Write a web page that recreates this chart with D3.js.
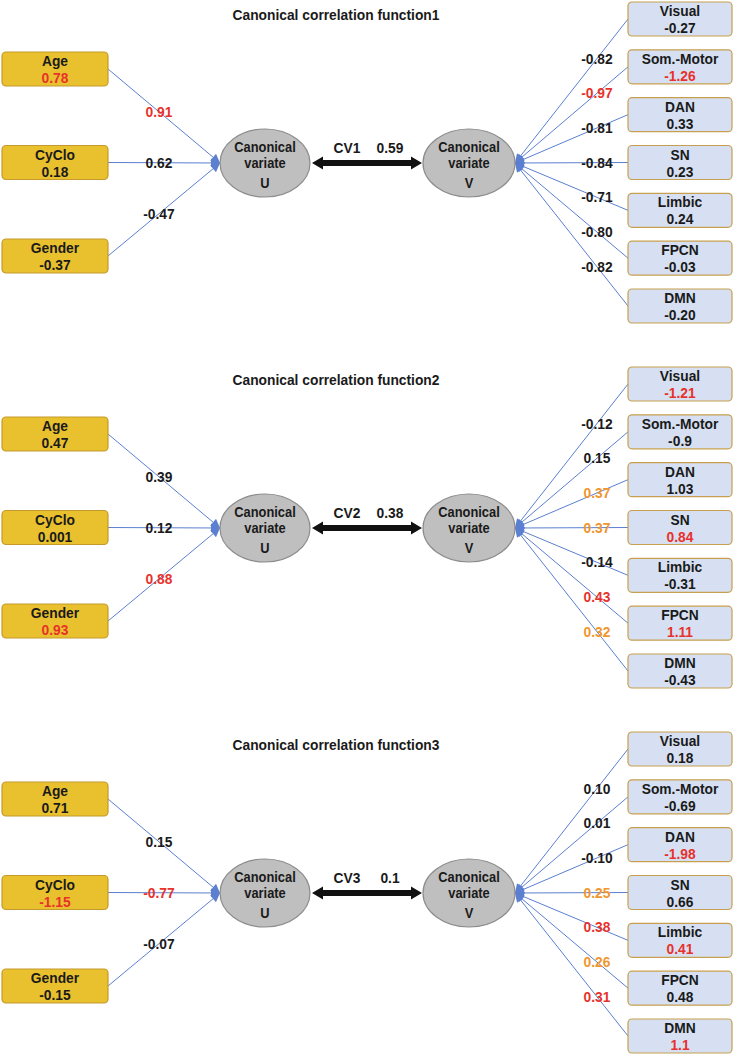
<!DOCTYPE html>
<html lang="en">
<meta charset="utf-8">
<head>
    <script src="https://d3js.org/d3.v7.min.js"></script>
    <style>
        body { margin: 0; background: #fff; }
        text { font-family: "Liberation Sans", Arial, sans-serif; font-weight: bold; font-size: 15px; }
        text.ell { font-size: 14px; }
    </style>
</head>
<body>
<script>

// data
var titles = ["Canonical correlation function1", "Canonical correlation function2", "Canonical correlation function3"];
var cvNames = ["CV1", "CV2", "CV3"];
var cvValues = ["0.59", "0.38", "0.1"];

var leftVars = ["Age", "CyClo", "Gender"];
var rightVars = ["Visual", "Som.-Motor", "DAN", "SN", "Limbic", "FPCN", "DMN"];

// box values (scores) and path loadings, per function
var leftScores = [["0.78", "0.18", "-0.37"], ["0.47", "0.001", "0.93"], ["0.71", "-1.15", "-0.15"]];
var leftLoadings = [["0.91", "0.62", "-0.47"], ["0.39", "0.12", "0.88"], ["0.15", "-0.77", "-0.07"]];
var rightScores = [
    ["-0.27", "-1.26", "0.33", "0.23", "0.24", "-0.03", "-0.20"],
    ["-1.21", "-0.9", "1.03", "0.84", "-0.31", "1.11", "-0.43"],
    ["0.18", "-0.69", "-1.98", "0.66", "0.41", "0.48", "1.1"]
];
var rightLoadings = [
    ["-0.82", "-0.97", "-0.81", "-0.84", "-0.71", "-0.80", "-0.82"],
    ["-0.12", "0.15", "0.37", "0.37", "-0.14", "0.43", "0.32"],
    ["0.10", "0.01", "-0.10", "0.25", "0.38", "0.26", "0.31"]
];

// highlight level: 0 = plain, 1 = orange, 2 = red
var leftScoreHL = [[2, 0, 0], [0, 0, 2], [0, 2, 0]];
var leftLoadHL = [[2, 0, 0], [0, 0, 2], [0, 2, 0]];
var rightScoreHL = [[0, 2, 0, 0, 0, 0, 0], [2, 0, 0, 2, 0, 2, 0], [0, 0, 2, 0, 2, 0, 2]];
var rightLoadHL = [[0, 2, 0, 0, 0, 0, 0], [0, 0, 1, 1, 0, 2, 1], [0, 0, 0, 1, 2, 1, 2]];

var hlColor = ["#1a1a1a", "#f0962d", "#e8312b"];

// layout
var W = 735, H = 1056;
var panelH = 365;
var lineBlue = "#5b7fd1";

var svg = d3.select("body").append("svg")
    .attr("width", W)
    .attr("height", H);

svg.append("defs").append("marker")
    .attr("id", "head")
    .attr("markerUnits", "userSpaceOnUse")
    .attr("viewBox", "0 0 10 10")
    .attr("refX", 10).attr("refY", 5)
    .attr("markerWidth", 12).attr("markerHeight", 9)
    .attr("orient", "auto")
    .append("path")
    .attr("d", "M0,0 L10,5 L0,10 Z")
    .attr("fill", lineBlue);

var panelY = d3.scaleBand().domain(d3.range(3)).range([0, 3 * panelH]);
var leftY = d3.scalePoint().domain(leftVars).range([69, 256]);
var rightY = d3.scalePoint().domain(rightVars).range([19, 306]);
var midY = 163;

var lbox = {x: 2, w: 106, h: 34};
var rbox = {x: 628, w: 104, h: 34};
var ellU = {cx: 265, rx: 45, ry: 34};
var ellV = {cx: 469, rx: 46, ry: 34};
var leftLabelX = 159, rightLabelX = 597;

// slightly condensed bold label
function label(g, x, y, txt, color) {
    return g.append("text")
        .attr("transform", "translate(" + x + "," + y + ") scale(0.92,1)")
        .attr("text-anchor", "middle")
        .attr("fill", color || "#1a1a1a")
        .text(txt);
}

titles.forEach(function(title, p) {
    var g = svg.append("g").attr("transform", "translate(0," + panelY(p) + ")");

    label(g, 336, 20, title);

    // left paths
    var x0 = lbox.x + lbox.w, x1 = ellU.cx - ellU.rx;
    leftVars.forEach(function(v, i) {
        var y0 = leftY(v);
        g.append("line")
            .attr("x1", x0).attr("y1", y0)
            .attr("x2", x1).attr("y2", midY)
            .attr("stroke", lineBlue)
            .attr("stroke-width", y0 == midY ? 2 : 1)
            .attr("marker-end", "url(#head)");
        var t = (leftLabelX - x0) / (x1 - x0);
        label(g, leftLabelX, y0 + t * (midY - y0) + 5, leftLoadings[p][i], hlColor[leftLoadHL[p][i]]);
    });

    // right paths
    var rx0 = rbox.x, rx1 = ellV.cx + ellV.rx;
    rightVars.forEach(function(v, i) {
        var y0 = rightY(v);
        g.append("line")
            .attr("x1", y0 == midY ? rx0 - 6 : rx0).attr("y1", y0)
            .attr("x2", rx1).attr("y2", midY)
            .attr("stroke", lineBlue)
            .attr("stroke-width", y0 == midY ? 2 : 1)
            .attr("marker-end", "url(#head)");
        var t = (rx0 - rightLabelX) / (rx0 - rx1);
        label(g, rightLabelX, y0 + t * (midY - y0) + 5, rightLoadings[p][i], hlColor[rightLoadHL[p][i]]);
    });

    // left boxes
    leftVars.forEach(function(v, i) {
        var cy = leftY(v);
        g.append("rect")
            .attr("x", lbox.x).attr("y", cy - lbox.h / 2)
            .attr("width", lbox.w).attr("height", lbox.h)
            .attr("rx", 4)
            .attr("fill", "#e9c12f")
            .attr("stroke", "#c49a2c")
            .attr("stroke-width", 1.2);
        label(g, lbox.x + lbox.w / 2, cy - 3, v);
        label(g, lbox.x + lbox.w / 2, cy + 14, leftScores[p][i], hlColor[leftScoreHL[p][i]]);
    });

    // right boxes
    rightVars.forEach(function(v, i) {
        var cy = rightY(v);
        g.append("rect")
            .attr("x", rbox.x).attr("y", cy - rbox.h / 2)
            .attr("width", rbox.w).attr("height", rbox.h)
            .attr("rx", 4)
            .attr("fill", "#d6e0f2")
            .attr("stroke", "#c6a04e")
            .attr("stroke-width", 1.2);
        label(g, rbox.x + rbox.w / 2, cy - 3, v);
        label(g, rbox.x + rbox.w / 2, cy + 14, rightScores[p][i], hlColor[rightScoreHL[p][i]]);
    });

    // ellipses
    [[ellU, "U"], [ellV, "V"]].forEach(function(e) {
        var el = e[0];
        g.append("ellipse")
            .attr("cx", el.cx).attr("cy", midY)
            .attr("rx", el.rx).attr("ry", el.ry)
            .attr("fill", "#bfbfbf")
            .attr("stroke", "#8c8c8c")
            .attr("stroke-width", 1.2);
        [["Canonical", -11], ["variate", 5], [e[1], 25]].forEach(function(l) {
            label(g, el.cx, midY + l[1], l[0]).attr("class", "ell");
        });
    });

    // double arrow between variates
    var ax0 = ellU.cx + ellU.rx + 2, ax1 = ellV.cx - ellV.rx - 1;
    var hl = 11, hw = 6.5, sw = 3;
    var pth = d3.path();
    pth.moveTo(ax0, midY);
    pth.lineTo(ax0 + hl, midY - hw);
    pth.lineTo(ax0 + hl, midY - sw);
    pth.lineTo(ax1 - hl, midY - sw);
    pth.lineTo(ax1 - hl, midY - hw);
    pth.lineTo(ax1, midY);
    pth.lineTo(ax1 - hl, midY + hw);
    pth.lineTo(ax1 - hl, midY + sw);
    pth.lineTo(ax0 + hl, midY + sw);
    pth.lineTo(ax0 + hl, midY + hw);
    pth.closePath();
    g.append("path").attr("d", pth.toString()).attr("fill", "#111");

    label(g, 347, midY - 10, cvNames[p]);
    label(g, 390, midY - 10, cvValues[p]);
});

</script>
</body>
</html>
